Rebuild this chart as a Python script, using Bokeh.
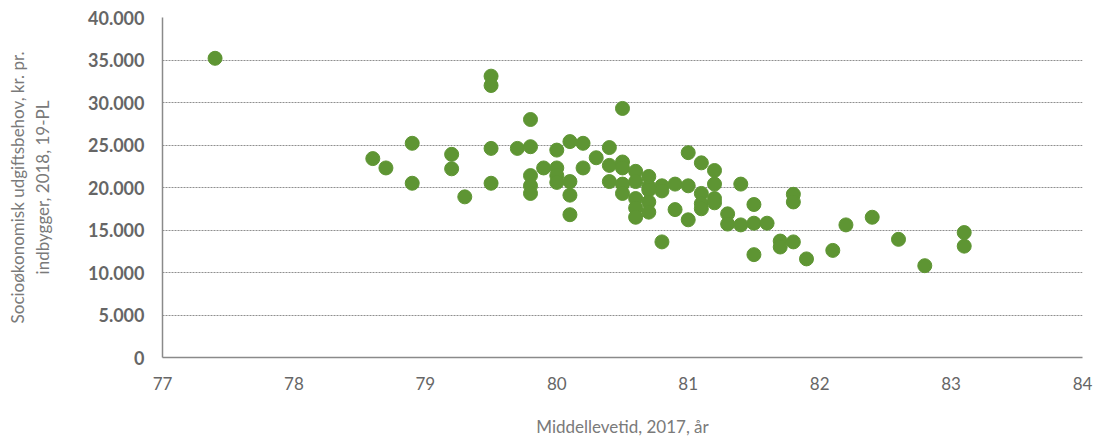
from bokeh.plotting import figure
from bokeh.models import Range1d, CustomJSTickFormatter, FixedTicker, ColumnDataSource
from bokeh.embed import file_html
from bokeh.resources import INLINE

# Middellevetid (x) and socioøkonomisk udgiftsbehov (y)
life_exp = [77.4,
            78.6, 78.7, 78.9, 78.9, 79.2, 79.2, 79.3,
            79.5, 79.5, 79.5, 79.5, 79.7,
            79.8, 79.8, 79.8, 79.8, 79.8, 79.9,
            80.0, 80.0, 80.0, 80.0,
            80.1, 80.1, 80.1, 80.1, 80.2, 80.2, 80.3,
            80.4, 80.4, 80.4,
            80.5, 80.5, 80.5, 80.5, 80.5,
            80.6, 80.6, 80.6, 80.6, 80.6,
            80.7, 80.7, 80.7, 80.7, 80.7,
            80.8, 80.8, 80.8, 80.9, 80.9,
            81.0, 81.0, 81.0,
            81.1, 81.1, 81.1, 81.1,
            81.2, 81.2, 81.2, 81.2,
            81.3, 81.3, 81.4, 81.4,
            81.5, 81.5, 81.5, 81.6, 81.7, 81.7,
            81.8, 81.8, 81.8, 81.9, 82.1, 82.2, 82.4, 82.6, 82.8,
            83.1, 83.1]
need = [35200,
        23400, 22300, 25200, 20500, 23900, 22200, 18900,
        33100, 32000, 24600, 20500, 24600,
        28000, 24800, 21400, 20200, 19300, 22300,
        24400, 22300, 21400, 20600,
        25400, 20700, 19100, 16800, 25200, 22300, 23500,
        24700, 22600, 20700,
        29300, 23000, 22300, 20400, 19300,
        21900, 20700, 18700, 17600, 16500,
        21300, 20100, 19700, 18300, 17100,
        20200, 19600, 13600, 20400, 17400,
        24100, 20200, 16200,
        22900, 19300, 18100, 17500,
        22000, 20400, 18700, 18200,
        16900, 15700, 20400, 15600,
        18000, 15800, 12100, 15800, 13700, 13000,
        19200, 18300, 13600, 11600, 12600, 15600, 16500, 13900, 10800,
        14700, 13100]

x_ticks = [77, 78, 79, 80, 81, 82, 83, 84]
y_ticks = [0, 5000, 10000, 15000, 20000, 25000, 30000, 35000, 40000]

src = ColumnDataSource(dict(x=life_exp, y=need))

FONT = "Lato"

p = figure(width=1093, height=439, output_backend="svg", toolbar_location=None,
           x_range=Range1d(77, 84), y_range=Range1d(0, 40000),
           min_border_left=162, min_border_right=11, min_border_top=17, min_border_bottom=77)
p.outline_line_color = None

p.scatter("x", "y", source=src, size=14, color="#5e9533", line_color="#5e9533")

p.xaxis.ticker = FixedTicker(ticks=x_ticks)
p.yaxis.ticker = FixedTicker(ticks=y_ticks)
p.yaxis.formatter = CustomJSTickFormatter(code="return tick.toFixed(0).replace(/\\B(?=(\\d{3})+(?!\\d))/g, '.');")

for ax in (p.xaxis[0], p.yaxis[0]):
    ax.axis_line_color = "#8a8a8a"
    ax.axis_line_width = 1.5
    ax.major_tick_line_color = None
    ax.minor_tick_line_color = None
    ax.major_label_text_color = "#666666"
    ax.axis_label_text_color = "#7a7a7a"
    ax.axis_label_text_font = FONT
    ax.axis_label_text_font_style = "normal"
    ax.axis_label_text_font_size = "17px"

p.yaxis.major_label_text_font = FONT
p.yaxis.major_label_text_font_style = "bold"
p.yaxis.major_label_text_font_size = "18px"
p.yaxis.major_label_standoff = 12
p.yaxis.axis_label = "Socioøkonomisk udgiftsbehov, kr. pr.\nindbygger, 2018, 19-PL"
p.yaxis.axis_label_standoff = 32

p.xaxis.major_label_text_font = FONT
p.xaxis.major_label_text_font_size = "17px"
p.xaxis.major_label_standoff = 13
p.xaxis.axis_label = "Middellevetid, 2017, år"
p.xaxis.axis_label_standoff = 23

p.xgrid.grid_line_color = None
p.ygrid.grid_line_color = "#8f8f8f"
p.ygrid.grid_line_dash = "2 1"
p.ygrid.grid_line_width = 1

open("out.html", "w").write(file_html(p, INLINE))
